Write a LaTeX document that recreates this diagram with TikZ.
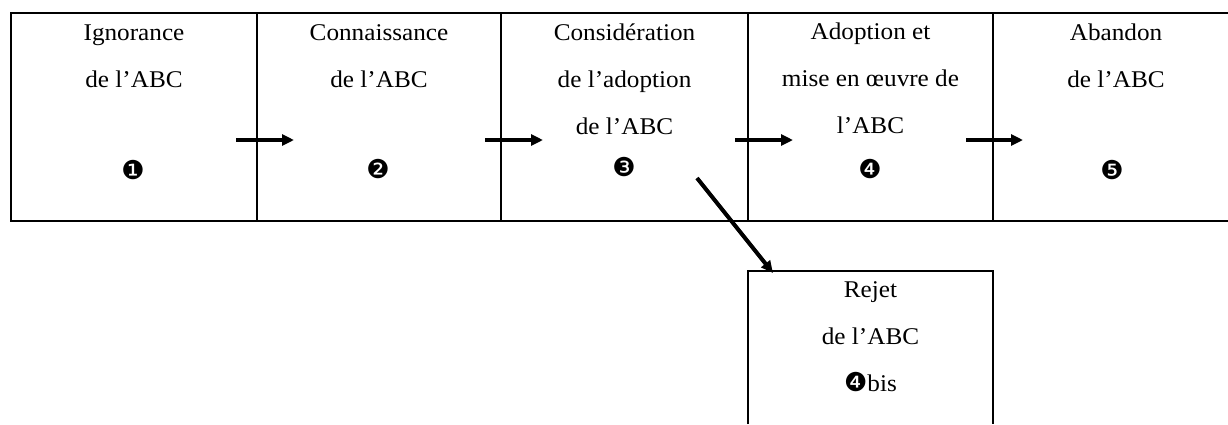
\documentclass[tikz,border=0pt]{standalone}
\usepackage{fontspec}
\setmainfont{Liberation Serif}[FakeStretch=1.05]
\newfontfamily\dingfont{DejaVu Sans}
\usetikzlibrary{arrows.meta}
\begin{document}
\begin{tikzpicture}[x=1pt,y=-1pt,
  frame/.style={line width=1.8pt},
  lbl/.style={align=center, font=\fontsize{24}{47}\selectfont, inner sep=0pt, anchor=base},
  num/.style={font=\dingfont\fontsize{26}{26}\selectfont, inner sep=0pt},
  flow/.style={line width=4pt, -{Triangle[length=12pt,width=11pt]}}]
\useasboundingbox (0,0) rectangle (1228,424);
% table
\draw[frame] (1228,13) -- (11,13) -- (11,221) -- (1228,221);
\foreach \x in {257,501,748,993} \draw[frame] (\x,13) -- (\x,221);
% rejet box
\draw[frame] (748,424) -- (748,271) -- (993,271) -- (993,424);
% labels (anchor = baseline of the last line)
\node[lbl] (t1) at (134,87) {Ignorance\\de l’ABC};
\node[lbl] (t2) at (379,87) {Connaissance\\de l’ABC};
\node[lbl] (t3) at (624.5,134) {Considération\\de l’adoption\\de l’ABC};
\node[lbl] (t4) at (870.5,133) {Adoption et\\mise en œuvre de\\l’ABC};
\node[lbl] (t5) at (1116,87) {Abandon\\de l’ABC};
\node[lbl] (t6) at (870.5,391) {Rejet\\de l’ABC\\{\dingfont\fontsize{26}{26}\selectfont ❹}bis};
% numbers
\node[num] (n1) at (133,170) {❶};
\node[num] (n2) at (378,169) {❷};
\node[num] (n3) at (624,167) {❸};
\node[num] (n4) at (870,169) {❹};
\node[num] (n5) at (1112,170) {❺};
% arrows
\coordinate (a1s) at (236,140); \coordinate (a1e) at (294,140);
\coordinate (a2s) at (485,140); \coordinate (a2e) at (543,140);
\coordinate (a3s) at (735,140); \coordinate (a3e) at (793,140);
\coordinate (a4s) at (966,140); \coordinate (a4e) at (1023,140);
\coordinate (ds) at (697,178); \coordinate (de) at (773,273);
\draw[flow] (a1s) -- (a1e);
\draw[flow] (a2s) -- (a2e);
\draw[flow] (a3s) -- (a3e);
\draw[flow] (a4s) -- (a4e);
\draw[flow] (ds) -- (de);
\end{tikzpicture}
\end{document}
